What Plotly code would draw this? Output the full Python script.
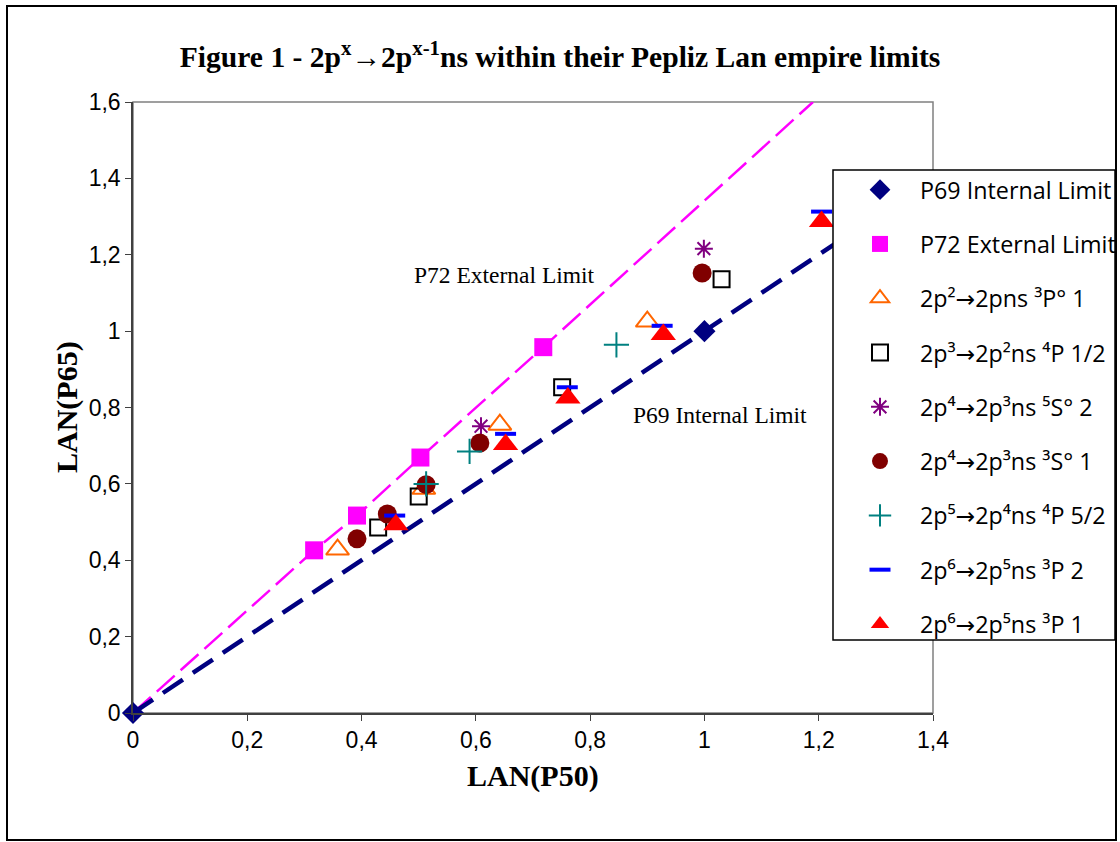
import plotly.graph_objects as go

# ---------------- data ----------------
p69_x = [0.0, 1.0]
p69_y = [0.0, 1.0]
p69_line_x = [0.0, 1.0, 1.3]
p69_line_y = [0.0, 1.0, 1.3]

p72_x = [0.317, 0.392, 0.503, 0.718]
p72_y = [0.426, 0.517, 0.669, 0.958]
p72_line_x = [0.0, 0.317, 0.392, 0.503, 0.718, 1.19]
p72_line_y = [0.0, 0.426, 0.517, 0.669, 0.958, 1.6]

s1_x = [0.358, 0.509, 0.642, 0.900]
s1_y = [0.428, 0.587, 0.755, 1.025]
s2_x = [0.429, 0.500, 0.751, 1.030]
s2_y = [0.486, 0.567, 0.853, 1.136]
s3_x = [0.609, 0.999]
s3_y = [0.751, 1.216]
s4_x = [0.392, 0.445, 0.513, 0.607, 0.996]
s4_y = [0.456, 0.521, 0.598, 0.707, 1.152]
s5_x = [0.513, 0.589, 0.846]
s5_y = [0.600, 0.685, 0.964]
s6_x = [0.458, 0.652, 0.760, 0.926, 1.205]
s6_y = [0.517, 0.731, 0.853, 1.014, 1.313]
s7_x = [0.460, 0.652, 0.761, 0.928, 1.205]
s7_y = [0.493, 0.703, 0.825, 0.991, 1.287]

x_ticks = [0, 0.2, 0.4, 0.6, 0.8, 1.0, 1.2, 1.4]
x_ticktext = ["0", "0,2", "0,4", "0,6", "0,8", "1", "1,2", "1,4"]
y_ticks = [0, 0.2, 0.4, 0.6, 0.8, 1.0, 1.2, 1.4, 1.6]
y_ticktext = ["0", "0,2", "0,4", "0,6", "0,8", "1", "1,2", "1,4", "1,6"]

names = [
    "P69 Internal Limit",
    "P72 External Limit",
    "2p²→2pns ³P° 1",
    "2p³→2p²ns ⁴P 1/2",
    "2p⁴→2p³ns ⁵S° 2",
    "2p⁴→2p³ns ³S° 1",
    "2p⁵→2p⁴ns ⁴P 5/2",
    "2p⁶→2p⁵ns ³P 2",
    "2p⁶→2p⁵ns ³P 1",
]

SANS = "Open Sans, DejaVu Sans, sans-serif"
SERIF = "Liberation Serif, DejaVu Serif, serif"
TICKF = "Liberation Sans, Arial, sans-serif"

fig = go.Figure()

# limit lines
fig.add_trace(go.Scatter(x=p72_line_x, y=p72_line_y, mode="lines", showlegend=False,
                         line=dict(color="#FF00FF", width=2.5, dash="24px,8px"), hoverinfo="skip"))
fig.add_trace(go.Scatter(x=p69_line_x, y=p69_line_y, mode="lines", showlegend=False,
                         line=dict(color="#000080", width=4.5, dash="24px,12px"), hoverinfo="skip"))

def add_markers(x, y, name, symbol, size, color, lw=0, lc=None):
    fig.add_trace(go.Scatter(
        x=x, y=y, mode="markers", name=name, legendgroup=name, cliponaxis=False,
        marker=dict(symbol=symbol, size=size, color=color,
                    line=dict(width=lw, color=lc if lc else color))))

add_markers(p69_x, p69_y, names[0], "diamond", 17, "#000080")
add_markers(p72_x, p72_y, names[1], "square", 18, "#FF00FF")
add_markers(s1_x, s1_y, names[2], "triangle-up-open", 20, "#FF6600", 2)
add_markers(s2_x, s2_y, names[3], "square-open", 16, "#000000", 2)
add_markers(s3_x, s3_y, names[4], "asterisk-open", 15, "#800080", 2)
add_markers(s4_x, s4_y, names[5], "circle", 19, "#800000")
add_markers(s5_x, s5_y, names[6], "cross-thin-open", 18, "#008080", 2)
add_markers(s6_x, s6_y, names[7], "line-ew-open", 15, "#0000FF", 4)
add_markers(s7_x, s7_y, names[8], "triangle-up", 22, "#FF0000")

fig.update_layout(
    width=1120, height=842,
    margin=dict(l=133, r=187, t=102, b=129, autoexpand=False),
    paper_bgcolor="white", plot_bgcolor="white",
    title=dict(text="<b>Figure 1 - 2p<sup>x</sup>→2p<sup>x-1</sup>ns within their Pepliz Lan empire limits</b>",
               x=0.5, xanchor="center", y=1 - 57 / 842, yanchor="middle",
               font=dict(family=SERIF, size=29.6, color="black")),
    xaxis=dict(range=[0, 1.4], tickvals=x_ticks, ticktext=x_ticktext, showgrid=False, zeroline=False,
               showline=True, linecolor="#404040", linewidth=1.5, ticks="outside", ticklen=6,
               tickcolor="#404040", tickfont=dict(family=TICKF, size=23, color="black")),
    yaxis=dict(range=[0, 1.6], tickvals=y_ticks, ticktext=y_ticktext, showgrid=False, zeroline=False,
               showline=True, linecolor="#404040", linewidth=1.5, ticks="outside", ticklen=6,
               tickcolor="#404040", tickfont=dict(family=TICKF, size=23, color="black")),
    legend=dict(x=(840 - 133) / 800, xanchor="left", y=(713 - 168) / 611, yanchor="top",
                bgcolor="rgba(0,0,0,0)", borderwidth=0,
                font=dict(family=SANS, size=23.3, color="black"),
                tracegroupgap=21, itemwidth=70),
    showlegend=True,
)

fig.add_shape(type="rect", xref="x domain", yref="y domain", x0=0, x1=1, y0=0, y1=1,
              line=dict(color="#808080", width=1.5), layer="below")
# legend box
fig.add_shape(type="rect", xref="paper", yref="paper",
              x0=(833 - 133) / 800, x1=(1115 - 133) / 800, y0=(713 - 640) / 611, y1=(713 - 170) / 611,
              line=dict(color="black", width=1.5), fillcolor="white", layer="above")
# outer chart border
fig.add_shape(type="rect", xref="paper", yref="paper",
              x0=(7 - 133) / 800, x1=(1116 - 133) / 800, y0=(713 - 840) / 611, y1=(713 - 6) / 611,
              line=dict(color="black", width=2))

fig.add_annotation(x=0.5, y=(713 - 795) / 611, xref="paper", yref="paper", showarrow=False,
                   text="<b>LAN(P50)</b>", font=dict(family=SERIF, size=30, color="black"))
fig.add_annotation(x=(48 - 133) / 800, y=(713 - 407) / 611, xref="paper", yref="paper", showarrow=False,
                   text="<b>LAN(P65)</b>", textangle=-90,
                   font=dict(family=SERIF, size=30, color="black"))
fig.add_annotation(x=0.6505, y=1.148, showarrow=False, text="P72 External Limit",
                   font=dict(family=SERIF, size=23.5, color="black"))
fig.add_annotation(x=1.027, y=0.781, showarrow=False, text="P69 Internal Limit",
                   font=dict(family=SERIF, size=23.5, color="black"))

fig.write_html("out.html")
